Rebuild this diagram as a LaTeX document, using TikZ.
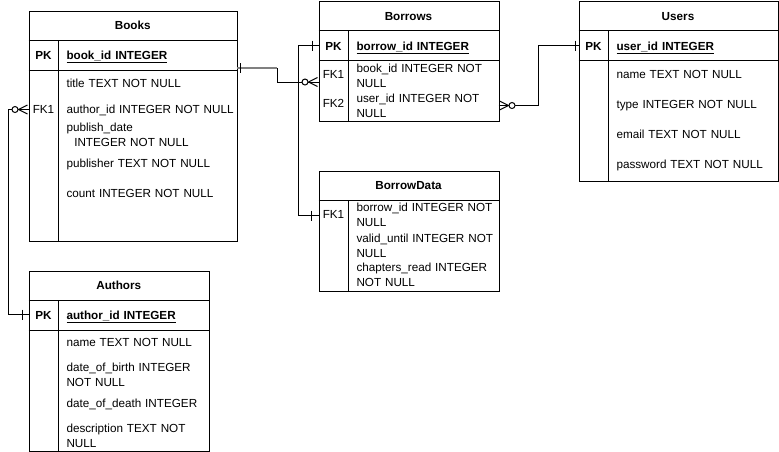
\documentclass[tikz,border=0pt]{standalone}
\usepackage{fontspec}
\setmainfont{Liberation Sans}
\begin{document}
\begin{tikzpicture}[x=1pt,y=-1pt,line width=1pt,
  tbl/.style={draw,anchor=north west,inner sep=0pt,fill=white},
  cell/.style={anchor=base west,inner sep=0pt,text width=200pt,align=left,font=\fontsize{11.7}{15}\selectfont},
  keyc/.style={anchor=base,inner sep=0pt,font=\fontsize{11.7}{15}\selectfont},
  ttl/.style={anchor=base,inner sep=0pt,font=\fontsize{11.7}{15}\selectfont\bfseries},
  pkc/.style={anchor=base,inner sep=0pt,font=\fontsize{11.7}{15}\selectfont\bfseries},
  one/.pic={\draw (0,-5) -- (0,5);},
  zmany/.pic={\draw (-10,0) -- (-1,-4.5) (-10,0) -- (-1,4.5);
              \draw[fill=white] (-13.5,0) circle (3);}
]
\useasboundingbox (0,0) rectangle (779,451);

% ---------- Books ----------
\node[tbl,minimum width=208.5pt,minimum height=230pt] (books) at (28.5,10.5) {};
\draw (28.5,40.5) -- (237,40.5) (28.5,70.5) -- (237,70.5) (58.5,40.5) -- (58.5,240.5);
\node[ttl] (bkT) at (132.75,29.3) {Books};
\node[pkc] (bkPKk) at (43.5,59.3) {PK};
\node[cell,font=\fontsize{11.7}{15}\selectfont\bfseries] (bkPKv) at (66,59.3) {\underline{book\_id INTEGER}};
\node[cell] (bk1) at (66,87.3) {title TEXT NOT NULL};
\node[keyc] (bkFKk) at (43.5,113.3) {FK1};
\node[cell] (bk2) at (66,113) {author\_id INTEGER NOT NULL};
\node[cell] (bk3) at (66,131.3) {publish\_date\\\ \ INTEGER NOT NULL};
\node[cell] (bk4) at (66,167.6) {publisher TEXT NOT NULL};
\node[cell] (bk5) at (66,197.6) {count INTEGER NOT NULL};

% ---------- Authors ----------
\node[tbl,minimum width=180.5pt,minimum height=180pt] (authors) at (28.5,270.5) {};
\draw (28.5,300.5) -- (209,300.5) (28.5,330.5) -- (209,330.5) (58.5,300.5) -- (58.5,450.5);
\node[ttl] (auT) at (118.75,289.3) {Authors};
\node[pkc] (auPKk) at (43.5,319.3) {PK};
\node[cell,font=\fontsize{11.7}{15}\selectfont\bfseries] (auPKv) at (66,319.3) {\underline{author\_id INTEGER}};
\node[cell] (au1) at (66,346.8) {name TEXT NOT NULL};
\node[cell] (au2) at (66,371.3) {date\_of\_birth INTEGER\\NOT NULL};
\node[cell] (au3) at (66,407.8) {date\_of\_death INTEGER};
\node[cell] (au4) at (66,432.3) {description TEXT NOT\\NULL};

% ---------- Borrows ----------
\node[tbl,minimum width=180pt,minimum height=120pt] (borrows) at (318.5,0.5) {};
\draw (318.5,30.5) -- (498.5,30.5) (318.5,60.5) -- (498.5,60.5) (348.5,30.5) -- (348.5,120.5);
\node[ttl] (brT) at (408.5,20.3) {Borrows};
\node[pkc] (brPKk) at (333.5,50.3) {PK};
\node[cell,font=\fontsize{11.7}{15}\selectfont\bfseries] (brPKv) at (356,50.3) {\underline{borrow\_id INTEGER}};
\node[keyc] (brFK1k) at (333.5,78.3) {FK1};
\node[cell] (br1) at (356,72.6) {book\_id INTEGER NOT\\NULL};
\node[keyc] (brFK2k) at (333.5,107.6) {FK2};
\node[cell] (br2) at (356,102) {user\_id INTEGER NOT\\NULL};

% ---------- BorrowData ----------
\node[tbl,minimum width=180pt,minimum height=120pt] (bdata) at (318.5,170.5) {};
\draw (318.5,200.5) -- (498.5,200.5) (348.5,200.5) -- (348.5,290.5);
\node[ttl] (bdT) at (408.5,189.3) {BorrowData};
\node[keyc] (bdFKk) at (333.5,218.3) {FK1};
\node[cell] (bd1) at (356,211.6) {borrow\_id INTEGER NOT\\NULL};
\node[cell] (bd2) at (356,242) {valid\_until INTEGER NOT\\NULL};
\node[cell] (bd3) at (356,271.6) {chapters\_read INTEGER\\NOT NULL};

% ---------- Users ----------
\node[tbl,minimum width=199pt,minimum height=180pt] (users) at (578.5,0.5) {};
\draw (578.5,30.5) -- (777.5,30.5) (578.5,60.5) -- (777.5,60.5) (608.5,30.5) -- (608.5,180.5);
\node[ttl] (usT) at (678,20.3) {Users};
\node[pkc] (usPKk) at (593.5,50.3) {PK};
\node[cell,font=\fontsize{11.7}{15}\selectfont\bfseries] (usPKv) at (616,50.3) {\underline{user\_id INTEGER}};
\node[cell] (us1) at (616,78) {name TEXT NOT NULL};
\node[cell] (us2) at (616,108) {type INTEGER NOT NULL};
\node[cell] (us3) at (616,138) {email TEXT NOT NULL};
\node[cell] (us4) at (616,168) {password TEXT NOT NULL};

% ---------- connector ends ----------
\coordinate (bkPK) at (237,68);
\coordinate (brFK1) at (318.5,82);
\coordinate (brPK) at (318.5,45.5);
\coordinate (bdFK1) at (318.5,215.5);
\coordinate (brFK2) at (498.5,105.5);
\coordinate (usPK) at (578.5,45.5);
\coordinate (bkFK1) at (28.5,109.5);
\coordinate (auPK) at (28.5,314.5);

% ---------- connectors ----------
\draw (bkPK) -- ++(40,0) |- (brFK1);
\draw[gray,line width=2pt] (bkPK) -- ++(40,0);
\pic at ([xshift=3pt]bkPK) {one};
\pic at (brFK1) {zmany};

\draw (brPK) -- ++(-20,0) |- (bdFK1);
\pic at ([xshift=-6pt]brPK) {one};
\pic at ([xshift=-7pt]bdFK1) {one};

\draw (brFK2) -- ++(40,0) |- (usPK);
\pic[xscale=-1] at (brFK2) {zmany};
\pic at ([xshift=-3pt]usPK) {one};

\draw (bkFK1) -- ++(-20,0) |- (auPK);
\pic at (bkFK1) {zmany};
\pic at ([xshift=-6pt]auPK) {one};
\end{tikzpicture}
\end{document}
